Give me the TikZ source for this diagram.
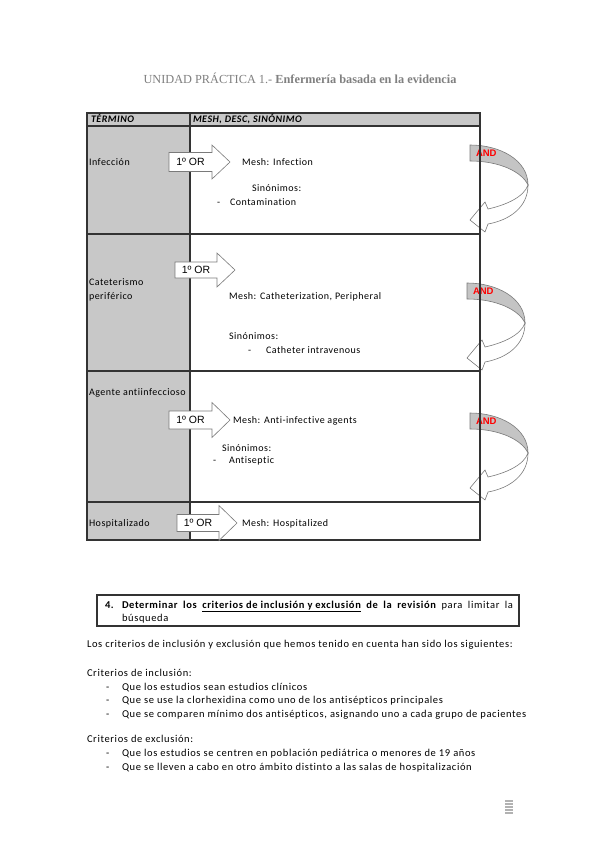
\documentclass[tikz,border=0pt]{standalone}
\usepackage{fontspec}
\setmainfont{Carlito}[LetterSpace=5, Ligatures=NoCommon]
\newfontfamily\bodyfont{Carlito}[LetterSpace=6, Ligatures=NoCommon]
\newfontfamily\arialf{Liberation Sans}
\newfontfamily\timesf{Liberation Serif}
\definecolor{cellgray}{HTML}{C8C8C8}
\definecolor{andgray}{HTML}{C4C4C4}
\definecolor{linegray}{HTML}{7A7A7A}
\newcommand\orarrow[7]{%
  \draw[orbox] ({#2},{#5-#6}) -- ({#3},{#5-#6}) -- ({#3},{#5-#7}) -- ({#4},{#5})
     -- ({#3},{#5+#7}) -- ({#3},{#5+#6}) -- ({#2},{#5+#6}) -- cycle;
  \node[orlabel] (#1) at ({(#2+#3)/2},{#5}) {1º OR};}
\begin{document}
\begin{tikzpicture}[x=1pt,y=-1pt,
  every node/.style={inner sep=0pt,outer sep=0pt},
  cell/.style={font=\fontsize{10}{12}\selectfont, anchor=west, text height=7pt, text depth=2pt},
  head/.style={font=\bfseries\itshape\fontsize{10}{12}\selectfont, anchor=west, text height=7pt, text depth=2pt},
  body/.style={font=\bodyfont\fontsize{10.5}{12}\selectfont, anchor=west, text height=7pt, text depth=2pt},
  grid/.style={draw=black!80, line width=1.1pt},
  orbox/.style={draw=linegray, fill=white, line width=0.6pt, line join=miter},
  orlabel/.style={font=\arialf\fontsize{10.5}{12}\selectfont, text height=7.5pt, text depth=0pt},
  andlabel/.style={font=\arialf\bfseries\fontsize{9.5}{10}\selectfont, text=red, anchor=west, text height=7pt, text depth=0pt},
  pics/andarrow/.style={code={
     \draw[fill=andgray, draw=linegray, line width=0.6pt] (0,0) .. controls (30,0) and (58,15) .. (58,40)
        .. controls (52,27) and (30,16) .. (0,16) -- cycle;
     \draw[fill=white, draw=linegray, line width=0.6pt, line join=miter] (58,40) .. controls (58,62) and (40,75) .. (18,79)
        -- (15,87) -- (0,75) -- (15,57) -- (18,64) .. controls (36,60) and (54,52) .. (58,40) -- cycle;
  }}
]
\useasboundingbox[fill=white] (0,0) rectangle (600,848);

% title
\node[font=\timesf\fontsize{12.3}{14}\selectfont, text=black!50] (title) at (300,78)
  {UNIDAD PRÁCTICA 1.- \textbf{Enfermería basada en la evidencia}};

% table fills
\fill[cellgray] (87,113) rectangle (190,540);
\fill[cellgray] (190,113) rectangle (480,126);

% AND curved arrows
\pic at (470,145) {andarrow};
\pic at (467,283) {andarrow};
\pic at (470,413) {andarrow};
\node[andlabel] (and1) at (476,153) {AND};
\node[andlabel] (and2) at (473,291) {AND};
\node[andlabel] (and3) at (476,421) {AND};

% table grid
\draw[grid] (87,113) rectangle (480,540);
\draw[grid] (87,126) -- (480,126);
\draw[grid] (87,234) -- (480,234);
\draw[grid] (87,371) -- (480,371);
\draw[grid] (87,502) -- (480,502);
\draw[grid] (190,113) -- (190,540);

% header
\node[head] (h1) at (91,120) {TÉRMINO};
\node[head] (h2) at (193,120) {MESH, DESC, SINÓNIMO};

% left column
\node[cell] (t1) at (89,163) {Infección};
\node[cell] (t2a) at (89,283) {Cateterismo};
\node[cell] (t2b) at (89,297) {periférico};
\node[cell] (t3) at (89,393) {Agente antiinfeccioso};
\node[cell] (t4) at (89,524) {Hospitalizado};

% OR arrows
\orarrow{or1}{169}{212}{230}{162}{9.5}{17}
\orarrow{or2}{175}{217}{235}{270}{8}{17}
\orarrow{or3}{169}{212}{230}{420}{9}{17.5}
\orarrow{or4}{177}{219}{237}{523}{8.5}{17.5}

% right column
\node[cell] (m1) at (242,163) {Mesh: Infection};
\node[cell] (s1) at (252,189) {Sinónimos:};
\node[cell] (d1) at (217,203) {-};
\node[cell] (c1) at (230,203) {Contamination};
\node[cell] (m2) at (229,297) {Mesh: Catheterization, Peripheral};
\node[cell] (s2) at (229,337) {Sinónimos:};
\node[cell] (d2) at (248,351) {-};
\node[cell] (c2) at (266,351) {Catheter intravenous};
\node[cell] (m3) at (233,421) {Mesh: Anti-infective agents};
\node[cell] (s3) at (222,449) {Sinónimos:};
\node[cell] (d3) at (213,461) {-};
\node[cell] (c3) at (229,461) {Antiseptic};
\node[cell] (m4) at (242,524) {Mesh: Hospitalized};

% boxed heading
\draw[grid] (97,595) rectangle (519,626);
\node[body, anchor=base west] (b1) at (105,608) {\bfseries 4.};
\node[body, anchor=base west] (b2) at (122,608)
  {\makebox[391pt][s]{\bfseries Determinar los \underline{criterios de inclusión y exclusión} de la revisión \mdseries para limitar la}};
\node[body, anchor=base west] (b3) at (122,621) {búsqueda};

% body text
\node[body] (p1) at (87,645) {Los criterios de inclusión y exclusión que hemos tenido en cuenta han sido los siguientes:};
\node[body] (p2) at (87,674) {Criterios de inclusión:};
\node[body] (i1d) at (106,688) {-};
\node[body] (i1) at (122,688) {Que los estudios sean estudios clínicos};
\node[body] (i2d) at (106,701) {-};
\node[body] (i2) at (122,701) {Que se use la clorhexidina como uno de los antisépticos principales};
\node[body] (i3d) at (106,715) {-};
\node[body] (i3) at (122,715) {Que se comparen mínimo dos antisépticos, asignando uno a cada grupo de pacientes};
\node[body] (p3) at (87,740) {Criterios de exclusión:};
\node[body] (e1d) at (106,754) {-};
\node[body] (e1) at (122,754) {Que los estudios se centren en población pediátrica o menores de 19 años};
\node[body] (e2d) at (106,768) {-};
\node[body] (e2) at (122,768) {Que se lleven a cabo en otro ámbito distinto a las salas de hospitalización};

% footer mark
\foreach \k in {0,...,4} {\fill[black!30] (505,{800+\k*3}) rectangle (513,{801.8+\k*3});}
\end{tikzpicture}
\end{document}
